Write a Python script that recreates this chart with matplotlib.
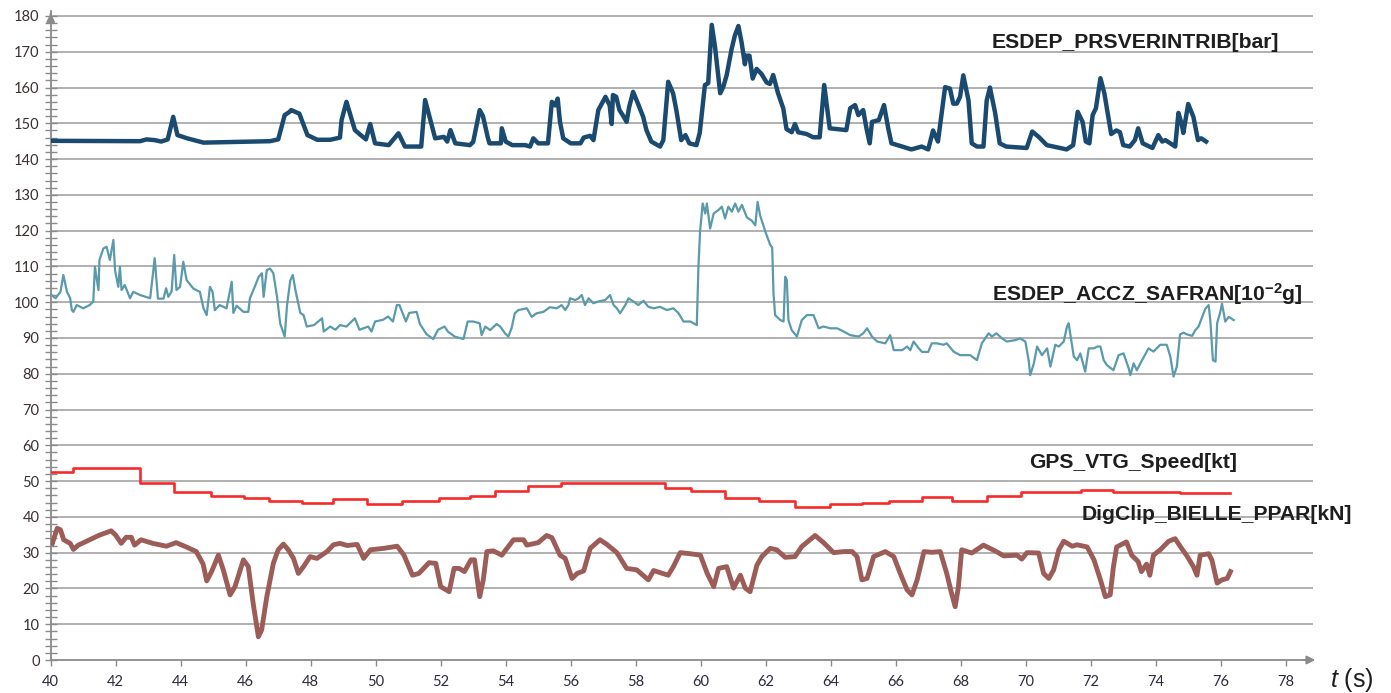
import matplotlib
matplotlib.use("Agg")
import matplotlib.pyplot as plt
import numpy as np

# ---------------- data ----------------
prs_t = [40.03, 42.75, 42.95, 43.2, 43.4, 43.6, 43.77, 43.9, 44.2, 44.7, 46.75, 47.0, 47.2, 47.35, 47.4,
         47.65, 47.9, 48.2, 48.6, 48.9, 48.95, 49.1, 49.36, 49.5, 49.7, 49.83, 49.98, 50.4, 50.7, 50.9,
         51.4, 51.52, 51.83, 52.1, 52.2, 52.3, 52.45, 52.9, 53.0, 53.2, 53.3, 53.45, 53.5, 53.85, 53.88,
         54.0, 54.2, 54.6, 54.75, 54.85, 55.0, 55.3, 55.42, 55.52, 55.6, 55.67, 55.77, 56.0, 56.3, 56.4,
         56.6, 56.7, 56.85, 57.07, 57.2, 57.26, 57.3, 57.4, 57.5, 57.6, 57.72, 57.8, 57.92, 58.07, 58.23,
         58.33, 58.48, 58.75, 58.85, 59.0, 59.15, 59.25, 59.4, 59.53, 59.65, 59.87, 59.97, 60.13, 60.23,
         60.34, 60.44, 60.6, 60.7, 60.8, 60.95, 61.05, 61.16, 61.26, 61.36, 61.4, 61.5, 61.6, 61.72,
         61.87, 62.03, 62.13, 62.23, 62.38, 62.54, 62.64, 62.8, 62.9, 63.0, 63.26, 63.46, 63.66, 63.8,
         63.97, 64.48, 64.6, 64.75, 64.85, 65.0, 65.1, 65.2, 65.27, 65.48, 65.64, 65.77, 65.87, 66.2,
         66.48, 66.8, 67.0, 67.15, 67.3, 67.52, 67.67, 67.77, 67.88, 67.98, 68.08, 68.24, 68.34, 68.5,
         68.7, 68.8, 68.9, 69.06, 69.2, 69.4, 70.03, 70.2, 70.4, 70.65, 71.26, 71.46, 71.6, 71.75, 71.85,
         71.96, 72.06, 72.16, 72.3, 72.42, 72.63, 72.79, 72.9, 73.0, 73.2, 73.36, 73.46, 73.6, 73.9,
         74.08, 74.2, 74.3, 74.45, 74.6, 74.7, 74.8, 74.85, 75.0, 75.16, 75.3, 75.4, 75.55]
prs_v = [145.1, 145.0, 145.5, 145.3, 144.9, 145.5, 151.8, 146.7, 145.8, 144.6, 145.0, 145.5, 152.3, 153.2, 153.7,
         152.7, 146.7, 145.4, 145.4, 146.0, 150.9, 156.0, 148.1, 147.0, 145.5, 149.8, 144.4, 143.9, 147.2, 143.5,
         143.5, 156.5, 145.8, 146.2, 144.9, 148.1, 144.4, 143.9, 144.8, 153.7, 152.0, 146.0, 144.4, 144.4, 148.6,
         144.9, 143.9, 143.9, 143.5, 145.8, 144.4, 144.4, 156.0, 155.0, 156.9, 150.4, 145.8, 144.4, 144.4, 146.0,
         146.5, 145.3, 153.7, 157.4, 155.0, 149.8, 157.9, 157.4, 153.7, 152.3, 150.4, 154.6, 158.8, 155.5, 151.8,
         148.1, 144.9, 143.5, 145.3, 161.6, 158.4, 153.7, 145.3, 146.7, 144.4, 143.9, 147.3, 160.7, 161.2,
         177.5, 171.4, 158.4, 160.3, 163.5, 170.7, 174.5, 177.2, 172.5, 166.5, 168.9, 168.9, 162.5, 165.2,
         163.8, 161.4, 161.0, 163.5, 158.4, 154.2, 148.4, 147.5, 149.8, 147.5, 147.0, 146.1, 146.1, 160.7,
         148.6, 148.1, 154.2, 155.1, 152.3, 153.7, 148.6, 144.4, 150.4, 150.9, 155.1, 148.6, 144.4, 143.5,
         142.7, 143.5, 142.7, 148.0, 144.9, 160.1, 159.7, 155.5, 155.5, 157.4, 163.4, 156.4, 144.4, 143.5,
         143.5, 156.4, 160.0, 152.9, 144.4, 143.5, 143.1, 147.7, 146.2, 143.9, 142.7, 143.9, 153.2, 150.4, 144.9,
         144.4, 152.3, 154.2, 162.6, 158.4, 147.0, 148.0, 147.5, 143.9, 143.5, 145.3, 148.6, 144.4, 143.1,
         146.7, 144.9, 145.3, 144.4, 143.5, 152.9, 149.8, 147.3, 155.4, 151.8, 145.3, 145.8, 144.9]

acc_t = [40.03, 40.15, 40.3, 40.39, 40.5, 40.6, 40.65, 40.7, 40.8, 41.0, 41.2, 41.31, 41.36, 41.47, 41.5,
         41.62, 41.72, 41.82, 41.93, 41.98, 42.08, 42.13, 42.18, 42.28, 42.44, 42.54, 42.75, 43.06, 43.2,
         43.3, 43.47, 43.55, 43.62, 43.72, 43.8, 43.87, 43.98, 44.08, 44.18, 44.39, 44.59, 44.7, 44.8,
         44.9, 44.98, 45.05, 45.2, 45.41, 45.57, 45.62, 45.72, 45.93, 46.08, 46.13, 46.3, 46.4, 46.5,
         46.55, 46.65, 46.75, 46.85, 46.96, 47.06, 47.2, 47.27, 47.37, 47.45, 47.53, 47.68, 47.78, 47.88,
         48.1, 48.35, 48.4, 48.6, 48.76, 48.9, 49.1, 49.36, 49.5, 49.77, 49.87, 49.98, 50.23, 50.38, 50.53,
         50.65, 50.73, 50.83, 50.93, 51.03, 51.26, 51.36, 51.56, 51.77, 51.92, 52.12, 52.22, 52.43, 52.7,
         52.83, 53.0, 53.2, 53.26, 53.37, 53.52, 53.72, 53.83, 53.98, 54.08, 54.18, 54.28, 54.39, 54.65,
         54.8, 54.95, 55.16, 55.36, 55.57, 55.72, 55.83, 55.93, 55.98, 56.14, 56.24, 56.34, 56.44, 56.55,
         56.7, 56.85, 57.06, 57.21, 57.32, 57.42, 57.52, 57.68, 57.78, 57.93, 58.08, 58.24, 58.39, 58.55,
         58.75, 58.96, 59.16, 59.32, 59.47, 59.68, 59.88, 59.93, 59.98, 60.06, 60.14, 60.19, 60.29, 60.4,
         60.55, 60.65, 60.75, 60.85, 60.96, 61.06, 61.16, 61.27, 61.42, 61.57, 61.68, 61.75, 61.83, 61.99,
         62.14, 62.2, 62.24, 62.29, 62.45, 62.55, 62.6, 62.65, 62.7, 62.8, 62.96, 63.11, 63.27, 63.47,
         63.63, 63.78, 63.99, 64.2, 64.4, 64.6, 64.86, 65.0, 65.12, 65.27, 65.43, 65.68, 65.83, 65.94,
         66.2, 66.35, 66.45, 66.55, 66.71, 66.81, 67.0, 67.11, 67.27, 67.47, 67.57, 67.78, 67.98, 68.29,
         68.5, 68.65, 68.86, 68.96, 69.1, 69.27, 69.42, 69.68, 69.83, 69.99, 70.09, 70.14, 70.25, 70.35,
         70.5, 70.66, 70.76, 70.91, 71.02, 71.17, 71.27, 71.32, 71.4, 71.48, 71.58, 71.68, 71.83, 71.94,
         72.1, 72.2, 72.3, 72.4, 72.5, 72.7, 72.86, 73.01, 73.17, 73.22, 73.32, 73.42, 73.58, 73.78, 73.93,
         74.14, 74.34, 74.45, 74.55, 74.65, 74.75, 74.86, 74.96, 75.12, 75.22, 75.32, 75.43, 75.53, 75.63,
         75.68, 75.76, 75.84, 75.89, 75.99, 76.04, 76.14, 76.25, 76.4]
acc_v = [102.0, 101.1, 102.9, 107.6, 102.9, 101.1, 97.8, 97.3, 99.2, 98.3, 99.2, 100.2, 109.9, 103.4, 111.8,
         115.0, 115.5, 111.8, 117.4, 108.9, 104.3, 109.9, 103.4, 104.8, 101.1, 102.9, 102.0, 101.1, 112.3,
         101.0, 101.0, 103.9, 101.5, 103.0, 113.2, 103.4, 104.3, 111.3, 106.2, 103.8, 102.9, 98.3, 96.4,
         104.3, 102.9, 97.8, 99.2, 98.3, 105.7, 97.0, 99.0, 97.3, 97.3, 101.1, 104.8, 107.1, 108.1,
         101.5, 109.0, 109.4, 108.1, 101.8, 94.1, 90.4, 99.0, 106.0, 107.6, 103.4, 97.0, 96.4, 93.2,
         93.6, 95.5, 91.8, 93.2, 92.3, 93.6, 93.2, 95.5, 92.3, 93.2, 91.8, 94.6, 95.1, 96.0, 94.6,
         99.2, 99.2, 96.9, 94.6, 97.0, 97.3, 93.9, 91.1, 89.7, 92.3, 93.2, 91.8, 90.4, 89.7,
         94.6, 94.6, 94.1, 90.8, 93.2, 92.2, 93.9, 93.2, 91.3, 90.4, 92.7, 96.9, 97.8, 98.3,
         95.9, 96.9, 97.3, 98.6, 98.3, 99.2, 97.8, 99.2, 101.1, 100.6, 101.1, 102.0, 99.2, 101.1,
         99.7, 100.2, 100.6, 102.0, 99.2, 98.3, 96.9, 99.2, 101.1, 100.2, 99.2, 100.4, 98.7, 98.3,
         98.7, 97.8, 98.3, 96.9, 94.6, 94.6, 93.6, 109.9, 119.7, 127.6, 124.8, 127.6, 120.6, 124.8,
         125.8, 126.7, 123.4, 126.7, 125.3, 127.6, 125.3, 127.2, 123.7, 122.8, 121.5, 128.0, 124.2, 119.7,
         116.0, 115.3, 102.5, 96.4, 95.0, 94.6, 107.1, 106.2, 95.0, 92.2, 90.4, 95.0, 96.4, 96.4,
         92.7, 93.2, 92.7, 92.7, 91.8, 90.8, 90.4, 91.3, 92.7, 90.4, 89.0, 88.5, 90.8, 86.6,
         86.6, 87.6, 86.6, 89.0, 87.1, 86.1, 86.1, 88.5, 88.5, 88.1, 88.5, 86.2, 85.2, 85.2,
         83.8, 88.5, 91.3, 90.4, 91.3, 89.9, 89.0, 89.4, 89.9, 89.0, 83.8, 79.6, 82.9, 87.6,
         85.2, 87.1, 82.0, 88.1, 87.6, 89.0, 93.2, 94.1, 89.4, 84.8, 83.8, 85.7, 80.6, 87.1,
         87.1, 87.6, 87.6, 83.8, 82.4, 81.0, 85.2, 85.7, 81.5, 79.6, 82.9, 81.0, 83.8, 87.1, 86.2,
         88.1, 88.1, 84.8, 79.2, 82.0, 91.0, 91.5, 91.0, 90.6, 92.2, 93.2, 95.9, 98.2, 99.2,
         95.0, 83.8, 83.4, 94.1, 97.4, 99.6, 94.6, 95.9, 95.0]

gps_t = [40.0, 40.7, 42.75, 43.8, 44.93, 45.95, 46.72, 47.74, 48.7, 49.73, 50.8, 51.94, 52.9, 53.67,
         54.7, 55.7, 58.9, 59.7, 60.75, 61.78, 62.9, 63.98, 64.97, 65.8, 66.82, 67.72, 68.8, 69.87,
         70.7, 71.7, 72.7, 74.75, 75.88, 76.3]
gps_v = [52.6, 53.6, 49.6, 47.0, 45.9, 45.2, 44.5, 44.0, 44.9, 43.5, 44.3, 45.4, 45.7, 47.3,
         48.7, 49.6, 48.2, 47.3, 45.4, 44.5, 42.8, 43.5, 44.0, 44.5, 45.6, 44.5, 45.7, 46.9,
         47.0, 47.5, 46.9, 46.6, 46.8, 46.8]

big_t = [40.05, 40.2, 40.3, 40.4, 40.6, 40.7, 40.85, 41.2, 41.5, 41.86, 42.0, 42.17, 42.32, 42.48, 42.58,
         42.78, 43.14, 43.56, 43.86, 44.17, 44.48, 44.69, 44.8, 44.95, 45.16, 45.31, 45.52, 45.67, 45.93,
         46.08, 46.23, 46.39, 46.49, 46.65, 46.85, 47.0, 47.16, 47.31, 47.47, 47.62, 47.78, 47.98, 48.19,
         48.5, 48.7, 48.9, 49.12, 49.43, 49.63, 49.84, 50.25, 50.66, 50.87, 51.13, 51.33, 51.64, 51.85,
         52.0, 52.26, 52.41, 52.57, 52.73, 52.93, 53.04, 53.2, 53.31, 53.42, 53.62, 53.88, 54.03, 54.24,
         54.55, 54.65, 55.0, 55.26, 55.42, 55.67, 55.83, 56.04, 56.2, 56.4, 56.6, 56.9, 57.1, 57.42, 57.72,
         58.03, 58.39, 58.55, 59.0, 59.16, 59.37, 59.68, 59.99, 60.2, 60.4, 60.55, 60.8, 61.01, 61.22,
         61.37, 61.52, 61.73, 61.88, 62.14, 62.34, 62.6, 62.9, 63.11, 63.52, 63.78, 64.09, 64.4, 64.66,
         64.81, 64.96, 65.12, 65.32, 65.68, 65.94, 66.14, 66.35, 66.5, 66.66, 66.87, 67.12, 67.37, 67.57,
         67.72, 67.83, 67.93, 68.03, 68.34, 68.7, 69.1, 69.32, 69.73, 69.88, 70.04, 70.4, 70.55, 70.71,
         70.86, 71.02, 71.17, 71.43, 71.58, 71.89, 72.1, 72.3, 72.45, 72.6, 72.7, 72.8, 73.1, 73.26, 73.46,
         73.56, 73.72, 73.82, 73.93, 74.14, 74.4, 74.6, 74.75, 74.96, 75.16, 75.27, 75.37, 75.63, 75.73,
         75.89, 76.04, 76.2, 76.3]
big_v = [32.6, 36.8, 36.4, 33.6, 32.6, 30.9, 32.1, 33.6, 34.9, 36.1, 34.9, 32.6, 34.3, 34.3, 32.1,
         33.6, 32.6, 31.8, 32.8, 31.6, 30.3, 26.8, 22.1, 24.7, 29.3, 25.2, 18.2, 20.5, 28.0,
         26.1, 15.8, 6.5, 8.4, 17.7, 27.0, 30.8, 32.4, 30.8, 28.4, 24.2, 26.1, 28.9, 28.4,
         30.3, 32.2, 32.6, 32.0, 32.3, 28.4, 30.8, 31.2, 31.8, 29.3, 23.7, 24.2, 27.2, 27.0,
         20.5, 19.1, 25.6, 25.6, 24.7, 28.0, 28.0, 17.7, 22.4, 30.3, 30.5, 29.3, 31.1, 33.6,
         33.6, 32.1, 32.8, 34.8, 34.2, 29.3, 28.4, 22.8, 24.2, 24.9, 31.2, 33.6, 32.4, 30.0, 25.6,
         25.2, 22.4, 25.0, 23.7, 26.1, 30.0, 29.7, 29.3, 24.2, 20.5, 25.6, 26.1, 20.1, 23.7,
         20.1, 19.1, 26.5, 28.9, 31.2, 30.8, 28.7, 28.9, 31.7, 34.8, 32.8, 30.0, 30.3, 30.3,
         28.9, 22.4, 22.8, 28.9, 30.3, 28.9, 24.2, 19.6, 18.2, 22.4, 30.3, 30.1, 30.3, 24.2,
         18.6, 14.9, 20.5, 30.8, 29.9, 32.1, 30.3, 29.1, 29.3, 28.2, 30.0, 29.9, 24.2, 22.8,
         25.2, 30.8, 33.2, 31.8, 32.2, 31.6, 28.0, 22.4, 17.7, 18.2, 26.1, 31.6, 33.0, 29.3, 27.5,
         24.7, 26.8, 23.7, 29.3, 30.8, 33.2, 33.9, 31.8, 29.1, 26.1, 23.7, 29.3, 29.7, 27.9,
         21.5, 22.4, 22.8, 24.7]

labels = ["ESDEP_PRSVERINTRIB[bar]", "ESDEP_ACCZ_SAFRAN[10$^{\\mathregular{-2}}$g]",
          "GPS_VTG_Speed[kt]", "DigClip_BIELLE_PPAR[kN]"]
label_pos = [(73.39, 172.7), (73.73, 102.3), (73.3, 55.2), (75.88, 40.6)]
yticks = list(range(0, 181, 10))
xticks = list(range(40, 79, 2))

# ---------------- figure ----------------
plt.rcParams["mathtext.fontset"] = "custom"
plt.rcParams["mathtext.rm"] = "Liberation Sans:bold"
plt.rcParams["mathtext.it"] = "Liberation Sans:italic"

W, H = 1391, 693
fig = plt.figure(figsize=(W / 100, H / 100), dpi=100)
x0, x1 = 50.7, 1313.0
yb, yt = 660.0, 10.5
ax = fig.add_axes([x0 / W, (H - yb) / H, (x1 - x0) / W, (yb - yt) / H])
ax.set_xlim(40, 40 + (x1 - x0) / 32.5)
ax.set_ylim(0, (yb - yt) / 3.578)

grid_c = "#a3a3a3"
for v in yticks[1:]:
    ax.axhline(v, color=grid_c, lw=1.2, zorder=1)

ax.plot(acc_t, acc_v, color="#5a9aaa", lw=1.6, zorder=3)
ax.plot(prs_t, prs_v, color="#1a4a70", lw=3.2, zorder=4, solid_joinstyle="round")
ax.plot(gps_t, gps_v, color="#f52a2a", lw=1.9, drawstyle="steps-post", zorder=3)
ax.plot(big_t, big_v, color="#9c5c58", lw=3.5, zorder=3, solid_joinstyle="round")

for (tx, ty), lab in zip(label_pos, labels):
    ax.text(tx, ty, lab, ha="center", va="center", fontsize=15.2, fontweight="bold",
            family="Liberation Sans", color="#1e1e1e", zorder=6)

for s in ["top", "right"]:
    ax.spines[s].set_visible(False)
ax.spines["left"].set_color("#8a8a8a")
ax.spines["bottom"].set_color("#8a8a8a")
ax.spines["left"].set_linewidth(1.3)
ax.spines["bottom"].set_linewidth(1.3)

# arrows
ax.annotate("", xy=(1.004, 0), xycoords="axes fraction", xytext=(0.99, 0),
            arrowprops=dict(arrowstyle="-|>,head_width=0.25,head_length=0.5", color="#8a8a8a", lw=1.3))
ax.annotate("", xy=(0, 1.0), xycoords="axes fraction", xytext=(0, 0.99),
            arrowprops=dict(arrowstyle="-|>,head_width=0.25,head_length=0.5", color="#8a8a8a", lw=1.3))

ax.set_yticks(yticks)
ax.set_yticks(np.arange(0, 181, 2), minor=True)
ax.set_xticks(xticks)
ax.tick_params(axis="y", which="both", direction="inout", length=8, width=1.0, color="#8a8a8a",
               labelsize=10.5, labelcolor="#3a3030", pad=4)
ax.tick_params(axis="x", which="major", direction="out", length=4, width=1.0, color="#8a8a8a",
               labelsize=10.5, labelcolor="#2c2c3a", pad=7)
for lab in ax.get_xticklabels() + ax.get_yticklabels():
    lab.set_family("Lato")

fig.text(1352 / W, (H - 680) / H, "$t$ (s)", ha="center", va="center", fontsize=18,
         family="Liberation Sans", color="#1e1e1e")

fig.savefig("out.png", dpi=100)
